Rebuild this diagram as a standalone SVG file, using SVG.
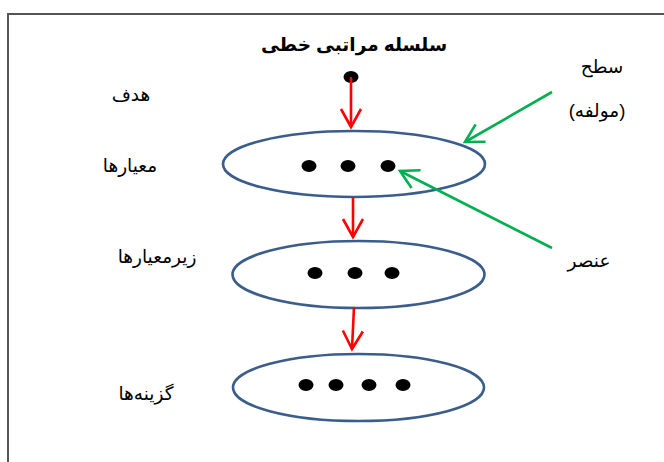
<svg xmlns="http://www.w3.org/2000/svg" width="664" height="462" viewBox="0 0 664 462">
<style>
.lvl{fill:none;stroke:#3A5D8C;stroke-width:2.6}
.dot{fill:#000}
.lbl{font-family:"Liberation Sans","DejaVu Sans",sans-serif;font-size:18.5px;fill:#000;text-anchor:middle}
.ttl{font-family:"Liberation Sans","DejaVu Sans",sans-serif;font-size:18.5px;font-weight:bold;fill:#000;text-anchor:middle}
.red{stroke:#FF0000;stroke-width:2.6;fill:none}
.grn{stroke:#00B050;stroke-width:2.6;fill:none}
</style>
<defs>
<marker id="arR" markerUnits="userSpaceOnUse" viewBox="-25 -15 30 30" markerWidth="30" markerHeight="30" refX="0" refY="0" orient="auto" overflow="visible">
<path d="M-18,-10 L0,0 L-18,10" fill="none" stroke="#FF0000" stroke-width="2.6"/>
</marker>
<marker id="arG" markerUnits="userSpaceOnUse" viewBox="-25 -15 30 30" markerWidth="30" markerHeight="30" refX="0" refY="0" orient="auto" overflow="visible">
<path d="M-18,-10 L0,0 L-18,10" fill="none" stroke="#00B050" stroke-width="2.6"/>
</marker>
</defs>
<rect width="664" height="462" fill="#fff"/>
<path d="M8,462 V14 H664" fill="none" stroke="#555" stroke-width="2"/>
<g id="title"><text class="ttl" x="354" y="51">سلسله مراتبی خطی</text></g>
<g id="goal">
<ellipse class="dot" cx="351" cy="77" rx="7.5" ry="6"/>
<text class="lbl" x="131" y="101">هدف</text>
</g>
<g id="criteria">
<ellipse class="lvl" cx="354" cy="164" rx="131" ry="33"/>
<ellipse class="dot" cx="309" cy="166" rx="7.5" ry="6"/>
<ellipse class="dot" cx="348" cy="166" rx="7.5" ry="6"/>
<ellipse class="dot" cx="388" cy="166" rx="7.5" ry="6"/>
<text class="lbl" x="130" y="172">معیارها</text>
</g>
<g id="subcriteria">
<ellipse class="lvl" cx="358.5" cy="274.5" rx="126" ry="33.5"/>
<ellipse class="dot" cx="315" cy="273" rx="7.5" ry="6"/>
<ellipse class="dot" cx="355" cy="273" rx="7.5" ry="6"/>
<ellipse class="dot" cx="392" cy="273" rx="7.5" ry="6"/>
<text class="lbl" x="157" y="263">زیرمعیارها</text>
</g>
<g id="alternatives">
<ellipse class="lvl" cx="358.5" cy="387.5" rx="125.5" ry="33.5"/>
<ellipse class="dot" cx="306" cy="385" rx="7.5" ry="6"/>
<ellipse class="dot" cx="336" cy="385" rx="7.5" ry="6"/>
<ellipse class="dot" cx="369" cy="385" rx="7.5" ry="6"/>
<ellipse class="dot" cx="403" cy="385" rx="7.5" ry="6"/>
<text class="lbl" x="146" y="400">گزینه‌ها</text>
</g>
<g id="level-note">
<text class="lbl" x="602" y="73">سطح</text>
<text class="lbl" x="597" y="117">(مولفه)</text>
</g>
<g id="element-note">
<text class="lbl" x="589" y="267">عنصر</text>
</g>
<g id="connectors">
<line class="red" x1="351" y1="77" x2="351" y2="127" marker-end="url(#arR)"/>
<line class="red" x1="353" y1="197" x2="353" y2="237" marker-end="url(#arR)"/>
<line class="red" x1="354" y1="307" x2="352" y2="349" marker-end="url(#arR)"/>
<line class="grn" x1="552" y1="92" x2="465" y2="142" marker-end="url(#arG)"/>
<line class="grn" x1="552" y1="248" x2="400" y2="171" marker-end="url(#arG)"/>
</g>
</svg>
